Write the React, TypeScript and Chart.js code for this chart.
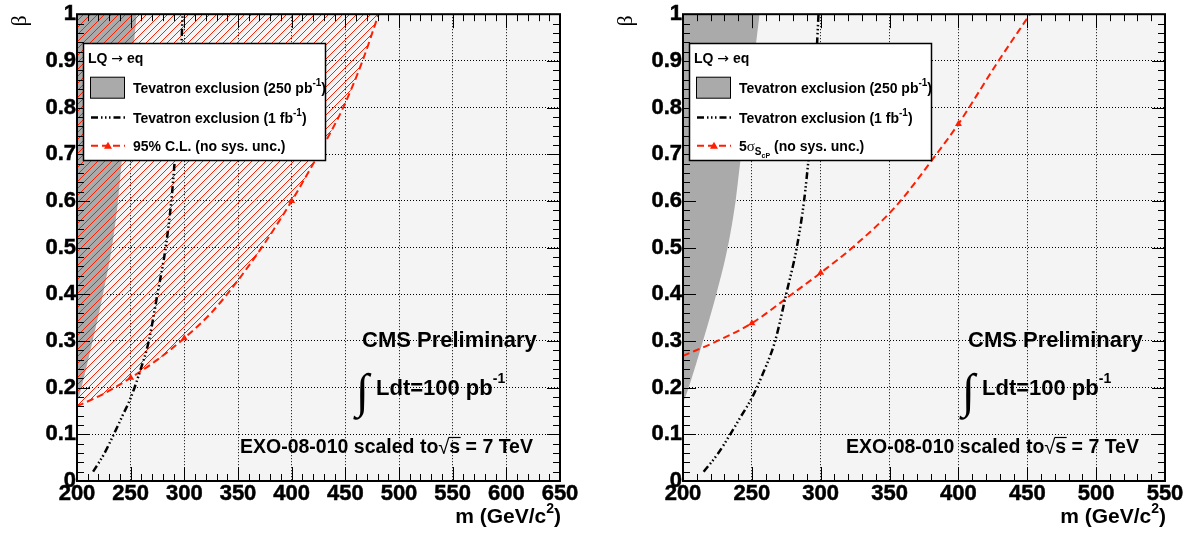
import React, { useEffect, useRef } from "react";
import { Chart, registerables } from "chart.js";

Chart.register(...registerables);

// ---------------- data ----------------
const leftMassMax = 650;
const rightMassMax = 550;
const massMin = 200;
const massTickStep = 50;
const betaMin = 0;
const betaMax = 1;
const betaTickStep = 0.1;

// Tevatron exclusion (250 pb^-1): boundary of the grey excluded region
const tev250Mass = [200, 204.1, 214.5, 224.2, 232.4, 238.2, 242.3, 247.5, 251.5, 255.6];
const tev250Beta = [0.167, 0.2, 0.3, 0.4, 0.5, 0.6, 0.7, 0.8, 0.9, 1.0];

// Tevatron exclusion (1 fb^-1): dash-dot curve
const tev1Mass = [215, 225, 234.3, 242, 250, 258, 266.9, 274.9, 282.6, 287.9, 291.5, 294.5, 296.7, 298.4];
const tev1Beta = [0.02, 0.057, 0.1, 0.138, 0.178, 0.23, 0.3, 0.4, 0.5, 0.6, 0.7, 0.8, 0.9, 1.0];

// Left panel: 95% C.L. (no sys. unc.)
const cl95Mass = [200, 225, 250, 275, 300, 325, 350, 375, 400, 425, 448, 466, 481];
const cl95Beta = [0.16, 0.187, 0.221, 0.26, 0.306, 0.36, 0.43, 0.51, 0.6, 0.7, 0.8, 0.9, 1.0];
const cl95MarkerMass = [250, 300, 400];
const cl95MarkerBeta = [0.221, 0.306, 0.6];

// Right panel: 5 sigma (no sys. unc.)
const sig5Mass = [200, 225, 250, 279, 300, 325, 355, 384, 400, 428, 452];
const sig5Beta = [0.268, 0.3, 0.338, 0.4, 0.446, 0.505, 0.59, 0.7, 0.765, 0.895, 1.0];
const sig5MarkerMass = [250, 300, 400];
const sig5MarkerBeta = [0.338, 0.446, 0.765];

// texts
const legendHeader = "LQ ";
const legendArrow = "\u2192";
const legendHeaderTail = " eq";
const legendTev250 = "Tevatron exclusion (250 pb";
const legendTev1 = "Tevatron exclusion (1 fb";
const legendCl95 = "95% C.L. (no sys. unc.)";
const legendSig5Tail = " (no sys. unc.)";
const cmsLabel = "CMS Preliminary";
const lumiLabel = "Ldt=100 pb";
const exoLabel = "EXO-08-010 scaled to";
const exoTail = " = 7 TeV";
const xTitle = "m (GeV/c";
const yTitle = "\u03b2";

// ---------------- styles ----------------
const SANS = '"Liberation Sans", Arial, Helvetica, sans-serif';
const SERIF = '"Liberation Serif", "DejaVu Serif", serif';
const DEJAVU = '"DejaVu Sans", sans-serif';
const RED = "#ff1e00";
const GREY = "#aaaaaa";
const FRAME_BG = "#f4f4f4";
const RED_DASH = [7, 4];
const BLACK_DASH = [7, 3, 1.5, 2.5, 1.5, 2.5, 1.5, 3];

const pts = (xs: number[], ys: number[]) => xs.map((x, i) => ({ x, y: ys[i] }));

function makeHatch(ctx: CanvasRenderingContext2D): CanvasPattern | string {
  const s = 7;
  const c = document.createElement("canvas");
  c.width = s;
  c.height = s;
  const g = c.getContext("2d");
  if (!g) return RED;
  g.strokeStyle = RED;
  g.lineWidth = 1;
  g.beginPath();
  g.moveTo(0, s);
  g.lineTo(s, 0);
  g.moveTo(-1, 1);
  g.lineTo(1, -1);
  g.moveTo(s - 1, s + 1);
  g.lineTo(s + 1, s - 1);
  g.stroke();
  return ctx.createPattern(c, "repeat") || RED;
}

type Run = { t: string; size: number; dy?: number; weight?: string; family?: string };

function runFont(r: Run) {
  return `${r.weight ?? "bold"} ${r.size}px ${r.family ?? SANS}`;
}
function runsWidth(ctx: CanvasRenderingContext2D, runs: Run[]) {
  let w = 0;
  for (const r of runs) {
    ctx.font = runFont(r);
    w += ctx.measureText(r.t).width;
  }
  return w;
}
function drawRuns(ctx: CanvasRenderingContext2D, runs: Run[], x: number, y: number) {
  let cx = x;
  for (const r of runs) {
    ctx.font = runFont(r);
    ctx.fillText(r.t, cx, y + (r.dy ?? 0));
    cx += ctx.measureText(r.t).width;
  }
  return cx;
}

type Spec = {
  xMax: number;
  padRight: number;
  yWidth: number;
  hatch: boolean;
  redMass: number[];
  redBeta: number[];
  markMass: number[];
  markBeta: number[];
  kind: "cl95" | "sig5";
};

function drawTicksAndFrame(chart: any) {
  const { ctx, chartArea: a } = chart;
  const xs = chart.scales.x;
  const ys = chart.scales.y;
  ctx.save();
  ctx.strokeStyle = "#000";
  ctx.lineWidth = 1;
  ctx.setLineDash([]);
  ctx.beginPath();
  const xMinor = massTickStep / 5;
  for (let i = 0; xs.min + i * xMinor <= xs.max + 1e-6; i++) {
    const px = Math.round(xs.getPixelForValue(xs.min + i * xMinor)) + 0.5;
    const len = i % 5 === 0 ? 14 : 7;
    ctx.moveTo(px, a.bottom);
    ctx.lineTo(px, a.bottom - len);
    ctx.moveTo(px, a.top);
    ctx.lineTo(px, a.top + len);
  }
  const yMinor = betaTickStep / 5;
  for (let i = 0; ys.min + i * yMinor <= ys.max + 1e-6; i++) {
    const py = Math.round(ys.getPixelForValue(ys.min + i * yMinor)) + 0.5;
    const len = i % 5 === 0 ? 13 : 7;
    ctx.moveTo(a.left, py);
    ctx.lineTo(a.left + len, py);
    ctx.moveTo(a.right, py);
    ctx.lineTo(a.right - len, py);
  }
  ctx.stroke();
  ctx.lineWidth = 2;
  ctx.strokeRect(a.left, a.top, a.right - a.left, a.bottom - a.top);
  ctx.restore();
}

function drawLegend(ctx: CanvasRenderingContext2D, a: any, kind: "cl95" | "sig5") {
  const bx = Math.round(a.left + 6);
  const by = Math.round(a.top + 29);
  const bw = 242;
  const bh = 117;
  ctx.save();
  ctx.fillStyle = "#fff";
  ctx.fillRect(bx, by, bw, bh);
  ctx.strokeStyle = "#000";
  ctx.lineWidth = 1.5;
  ctx.strokeRect(bx + 0.5, by + 0.5, bw, bh);

  ctx.fillStyle = "#000";
  ctx.textBaseline = "alphabetic";
  ctx.textAlign = "left";
  const fs = 14;
  const tx = bx + 50;
  const rows = [by + 44.7, by + 74.4, by + 102.7];
  drawRuns(
    ctx,
    [
      { t: legendHeader, size: fs },
      { t: legendArrow, size: fs, weight: "normal", family: DEJAVU },
      { t: legendHeaderTail, size: fs },
    ],
    bx + 5,
    by + 20
  );

  // grey box sample
  ctx.fillStyle = GREY;
  ctx.fillRect(bx + 7.5, rows[0] - 10.5, 34, 21);
  ctx.strokeStyle = "#000";
  ctx.lineWidth = 1;
  ctx.strokeRect(bx + 7.5, rows[0] - 10.5, 34, 21);
  ctx.fillStyle = "#000";
  drawRuns(
    ctx,
    [
      { t: legendTev250, size: fs },
      { t: "-1", size: 10, dy: -7 },
      { t: ")", size: fs },
    ],
    tx,
    rows[0] + 5.5
  );

  // black dash-dot sample
  ctx.strokeStyle = "#000";
  ctx.lineWidth = 2.5;
  ctx.setLineDash(BLACK_DASH);
  ctx.beginPath();
  ctx.moveTo(bx + 8, rows[1]);
  ctx.lineTo(bx + 42, rows[1]);
  ctx.stroke();
  ctx.setLineDash([]);
  drawRuns(
    ctx,
    [
      { t: legendTev1, size: fs },
      { t: "-1", size: 10, dy: -7 },
      { t: ")", size: fs },
    ],
    tx,
    rows[1] + 5.5
  );

  // red dashed sample with triangle
  ctx.strokeStyle = RED;
  ctx.lineWidth = 2;
  ctx.setLineDash(RED_DASH);
  ctx.beginPath();
  ctx.moveTo(bx + 8, rows[2]);
  ctx.lineTo(bx + 42, rows[2]);
  ctx.stroke();
  ctx.setLineDash([]);
  ctx.fillStyle = RED;
  const cx = bx + 25;
  ctx.beginPath();
  ctx.moveTo(cx, rows[2] - 4);
  ctx.lineTo(cx + 4, rows[2] + 3);
  ctx.lineTo(cx - 4, rows[2] + 3);
  ctx.closePath();
  ctx.fill();
  ctx.fillStyle = "#000";
  if (kind === "cl95") {
    drawRuns(ctx, [{ t: legendCl95, size: fs }], tx, rows[2] + 5.5);
  } else {
    drawRuns(
      ctx,
      [
        { t: "5", size: fs },
        { t: "\u03c3", size: fs + 1, weight: "normal", family: SERIF },
        { t: "S", size: 10, dy: 4 },
        { t: "cP", size: 7, dy: 7 },
        { t: legendSig5Tail, size: fs },
      ],
      tx,
      rows[2] + 5.5
    );
  }
  ctx.restore();
}

function drawTexts(ctx: CanvasRenderingContext2D, a: any) {
  ctx.save();
  ctx.fillStyle = "#000";
  ctx.textAlign = "left";
  ctx.textBaseline = "alphabetic";
  // CMS Preliminary
  drawRuns(ctx, [{ t: cmsLabel, size: 22 }], a.left + 285, 347);
  // integral luminosity
  ctx.font = `normal 48px ${SERIF}`;
  ctx.fillText("\u222b", a.left + 279, 407);
  drawRuns(
    ctx,
    [
      { t: lumiLabel, size: 22 },
      { t: "-1", size: 14, dy: -12 },
    ],
    a.left + 299,
    395
  );
  // EXO-08-010 scaled to sqrt(s) = 7 TeV
  const base = 453;
  let x = drawRuns(ctx, [{ t: exoLabel, size: 19.5 }], a.left + 163, base);
  ctx.font = `normal 20px ${SANS}`;
  ctx.fillText("\u221a", x, base + 1);
  x += ctx.measureText("\u221a").width;
  const sStart = x;
  x = drawRuns(ctx, [{ t: "s", size: 19.5 }], x, base);
  ctx.strokeStyle = "#000";
  ctx.lineWidth = 1.2;
  ctx.beginPath();
  ctx.moveTo(sStart - 1, base - 15.5);
  ctx.lineTo(x + 0.5, base - 15.5);
  ctx.stroke();
  drawRuns(ctx, [{ t: exoTail, size: 19.5 }], x, base);

  // x axis title (right aligned)
  const xr: Run[] = [
    { t: xTitle, size: 21 },
    { t: "2", size: 14, dy: -10 },
    { t: ")", size: 21 },
  ];
  const w = runsWidth(ctx, xr);
  drawRuns(ctx, xr, a.right + 1 - w, 523);

  // y axis title
  ctx.save();
  ctx.translate(a.left - 57, 21);
  ctx.rotate(-Math.PI / 2);
  ctx.font = `normal 22px ${SERIF}`;
  ctx.textAlign = "center";
  ctx.textBaseline = "middle";
  ctx.fillText(yTitle, 0, 0);
  ctx.restore();
  ctx.restore();
}

function buildConfig(spec: Spec, ctx: CanvasRenderingContext2D): any {
  const tickFont = { family: SANS, size: 22, weight: "bold" as const };
  const panelPlugin = {
    id: "rootPanel",
    beforeDraw(chart: any) {
      const { ctx: c, chartArea: a } = chart;
      c.save();
      c.fillStyle = "#ffffff";
      c.fillRect(0, 0, chart.width, chart.height);
      c.fillStyle = FRAME_BG;
      c.fillRect(a.left, a.top, a.right - a.left, a.bottom - a.top);
      c.restore();
    },
    afterDraw(chart: any) {
      const { ctx: c, chartArea: a } = chart;
      drawTicksAndFrame(chart);
      drawTexts(c, a);
      drawLegend(c, a, spec.kind);
    },
  };
  return {
    type: "line",
    data: {
      datasets: [
        {
          label: "Tevatron exclusion (250 pb-1)",
          data: pts(tev250Mass, tev250Beta),
          fill: "end",
          backgroundColor: GREY,
          borderColor: "rgba(0,0,0,0)",
          borderWidth: 0,
          pointRadius: 0,
          cubicInterpolationMode: "monotone",
          order: 4,
        },
        {
          label: spec.kind === "cl95" ? legendCl95 : "5 sigma",
          data: pts(spec.redMass, spec.redBeta),
          fill: spec.hatch ? "end" : false,
          backgroundColor: spec.hatch ? makeHatch(ctx) : "rgba(0,0,0,0)",
          borderColor: RED,
          borderWidth: 2,
          borderDash: RED_DASH,
          pointRadius: 0,
          cubicInterpolationMode: "monotone",
          order: 3,
        },
        {
          label: "Tevatron exclusion (1 fb-1)",
          data: pts(tev1Mass, tev1Beta),
          fill: false,
          borderColor: "#000",
          borderWidth: 2.5,
          borderDash: BLACK_DASH,
          pointRadius: 0,
          cubicInterpolationMode: "monotone",
          order: 2,
        },
        {
          label: "markers",
          data: pts(spec.markMass, spec.markBeta),
          showLine: false,
          fill: false,
          pointStyle: "triangle",
          pointRadius: 4,
          pointBackgroundColor: RED,
          pointBorderColor: RED,
          pointBorderWidth: 0,
          order: 1,
        },
      ],
    },
    options: {
      responsive: false,
      animation: false,
      events: [],
      layout: { padding: { left: 0, top: 13, right: spec.padRight, bottom: 0 } },
      plugins: {
        legend: { display: false },
        tooltip: { enabled: false },
        title: { display: false },
      },
      scales: {
        x: {
          type: "linear",
          min: massMin,
          max: spec.xMax,
          afterFit: (s: any) => {
            s.height = 52;
          },
          ticks: {
            stepSize: massTickStep,
            font: tickFont,
            color: "#000",
            padding: 0,
            autoSkip: false,
            maxRotation: 0,
            textStrokeColor: "#000",
            textStrokeWidth: 0.5,
            callback: (v: number) => String(Math.round(v)),
          },
          grid: { color: "#000", lineWidth: 1, drawTicks: false },
          border: { display: false, dash: [1, 2] },
        },
        y: {
          type: "linear",
          min: betaMin,
          max: betaMax,
          afterFit: (s: any) => {
            s.width = spec.yWidth;
          },
          ticks: {
            stepSize: betaTickStep,
            font: tickFont,
            color: "#000",
            padding: 1,
            autoSkip: false,
            textStrokeColor: "#000",
            textStrokeWidth: 0.5,
            callback: (v: number) => String(Number(v.toFixed(2))),
          },
          grid: { color: "#000", lineWidth: 1, drawTicks: false },
          border: { display: false, dash: [1, 2] },
        },
      },
    },
    plugins: [panelPlugin],
  };
}

const leftSpec: Spec = {
  xMax: leftMassMax,
  padRight: 35,
  yWidth: 77,
  hatch: true,
  redMass: cl95Mass,
  redBeta: cl95Beta,
  markMass: cl95MarkerMass,
  markBeta: cl95MarkerBeta,
  kind: "cl95",
};

const rightSpec: Spec = {
  xMax: rightMassMax,
  padRight: 25,
  yWidth: 88,
  hatch: false,
  redMass: sig5Mass,
  redBeta: sig5Beta,
  markMass: sig5MarkerMass,
  markBeta: sig5MarkerBeta,
  kind: "sig5",
};

function Panel({ spec, left }: { spec: Spec; left: number }) {
  const ref = useRef<HTMLCanvasElement>(null);
  useEffect(() => {
    const canvas = ref.current;
    if (!canvas) return;
    const ctx = canvas.getContext("2d");
    if (!ctx) return;
    const chart = new Chart(canvas, buildConfig(spec, ctx));
    return () => chart.destroy();
  }, [spec]);
  return (
    <canvas
      ref={ref}
      width={595}
      height={533}
      style={{ position: "absolute", left, top: 0, width: 595, height: 533 }}
    />
  );
}

export default function App() {
  return (
    <div
      style={{
        position: "absolute",
        left: 0,
        top: 0,
        width: 1190,
        height: 533,
        background: "#fff",
        overflow: "hidden",
      }}
    >
      <Panel spec={leftSpec} left={0} />
      <Panel spec={rightSpec} left={595} />
    </div>
  );
}
